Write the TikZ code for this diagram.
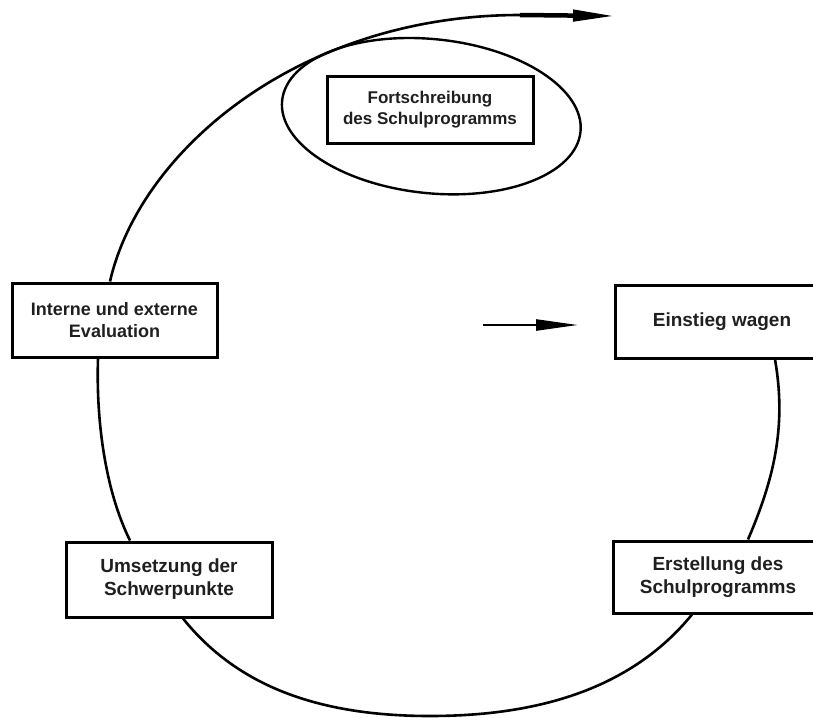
\documentclass[tikz,border=0pt]{standalone}
\usepackage{fontspec}
\setmainfont{Liberation Sans}
\usetikzlibrary{arrows.meta}
\definecolor{darktext}{rgb}{0.12,0.12,0.12}

\begin{document}
\begin{tikzpicture}[x=1pt,y=-1pt,
	phase/.style={draw, line width=3pt, inner sep=0pt, align=center, text=darktext, font=\fontsize{19}{23}\selectfont\bfseries},
	loop/.style={line width=2.6pt},
	bigtip/.style={-{Triangle[length=42pt,width=11pt]}}]
			\useasboundingbox (0,0) rectangle (813,717);
			\clip (0,0) rectangle (813,717);
			\coordinate (A-top) at (520,15);
			\coordinate (A-tip) at (615,16);
			\coordinate (B-start) at (483,325);
			\coordinate (B-tip) at (578,325);
			\coordinate (C-bottom) at (430,716);
			%Boxes
			\node[phase, minimum width=206pt, minimum height=67pt, font=\fontsize{17}{21}\selectfont\bfseries] (fort) at (430,109.5) {Fortschreibung\\des Schulprogramms};
			\node[phase, minimum width=205pt, minimum height=74pt, font=\fontsize{18}{22}\selectfont\bfseries] (intern) at (114.5,320) {Interne und externe\\Evaluation};
			\node[phase, minimum width=214pt, minimum height=73pt] (einstieg) at (722,321.5) {Einstieg wagen};
			\node[phase, minimum width=210pt, minimum height=72pt] (erstell) at (718,577) {Erstellung des\\Schulprogramms};
			\node[phase, minimum width=206pt, minimum height=75pt] (umsetz) at (169,579.5) {Umsetzung der\\Schwerpunkte};
			%Ellipse
			\draw[line width=2.4pt, rotate around={-6:([xshift=2pt,yshift=-6.5pt]fort.center)}] ([xshift=2pt,yshift=-6.5pt]fort.center) ellipse [x radius=150, y radius=77];
			%Cycle
			\draw[loop] ([xshift=53pt]einstieg.south) .. controls (787,428) and (773,481) .. ([xshift=30pt]erstell.north);
			\draw[loop] ([xshift=-26pt]erstell.south) .. controls (632,688) and (540,716) .. (C-bottom)
				.. controls (320,716) and (238,687) .. ([xshift=14pt]umsetz.south);
			\draw[loop] ([xshift=-39pt]umsetz.north) .. controls (105,490) and (96,420) .. ([xshift=-16.5pt]intern.south);
			\draw[loop] ([xshift=-4.5pt]intern.north) .. controls (140,150) and (300,15) .. (A-top);
			%Arrows
			\draw[line width=4.5pt, bigtip] (A-top) -- (A-tip);
			\draw[line width=2.4pt, bigtip] (B-start) -- (B-tip);
		\end{tikzpicture}
\end{document}
